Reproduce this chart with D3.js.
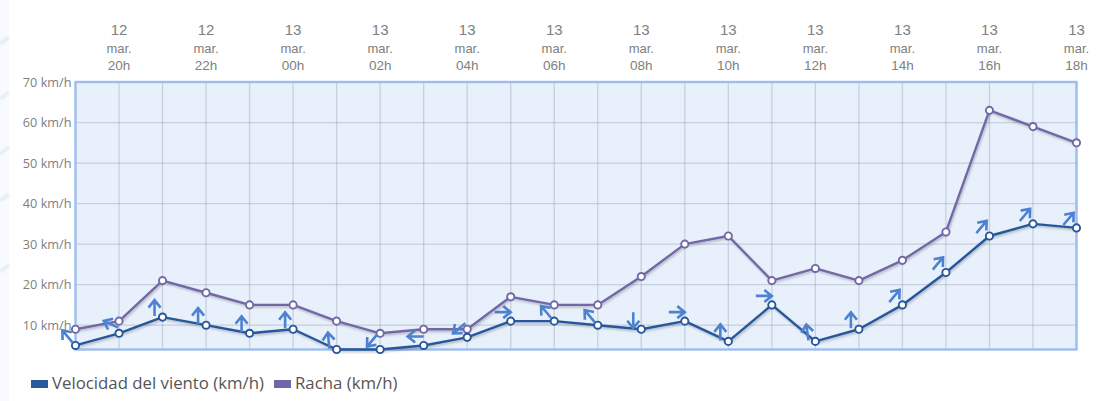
<!DOCTYPE html>
<html>
<head>
<meta charset="utf-8">
<script src="https://cdn.jsdelivr.net/npm/d3@7"></script>
<style>
  html, body { margin: 0; padding: 0; background: #fff; }
  svg { display: block; font-family: "Open Sans", sans-serif; }
  .domain { display: none; }
  .tick line { display: none; }
</style>
</head>
<body>
<div id="chart"></div>
<script>
var hours = [19, 20, 21, 22, 23, 0, 1, 2, 3, 4, 5, 6, 7, 8, 9, 10, 11, 12, 13, 14, 15, 16, 17, 18];
var days = [12, 12, 12, 12, 12, 13, 13, 13, 13, 13, 13, 13, 13, 13, 13, 13, 13, 13, 13, 13, 13, 13, 13, 13];
var wind = [5, 8, 12, 10, 8, 9, 4, 4, 5, 7, 11, 11, 10, 9, 11, 6, 15, 6, 9, 15, 23, 32, 35, 34];
var gust = [9, 11, 21, 18, 15, 15, 11, 8, 9, 9, 17, 15, 15, 22, 30, 32, 21, 24, 21, 26, 33, 63, 59, 55];
// direction the arrow points to, degrees clockwise from north
var windDir = [-40, -65, 0, 0, 0, 0, -5, -140, -90, -130, 90, -40, -40, 180, 90, 0, 90, -8, 0, 40, 40, 40, 40, 40];
var yTicks = [10, 20, 30, 40, 50, 60, 70];
var legendItems = ["Velocidad del viento (km/h)", "Racha (km/h)"];

var width = 1103, height = 401;
var left = 75.5, right = 1076.5, top_ = 82, bottom = 349.5;

var svg = d3.select("#chart").append("svg")
    .attr("width", width)
    .attr("height", height);

var x = d3.scaleLinear().domain([0, hours.length - 1]).range([left, right]);
var y = d3.scaleLinear().domain([4, 70]).range([bottom, top_]);

var defs = svg.append("defs");

// drop shadow under the lines
var shadow = defs.append("filter").attr("id", "shadow")
    .attr("x", "-5%").attr("y", "-5%").attr("width", "110%").attr("height", "120%");
shadow.append("feDropShadow")
    .attr("dx", 1).attr("dy", 1.5).attr("stdDeviation", 1)
    .attr("flood-color", "#000").attr("flood-opacity", 0.25);

defs.append("filter").attr("id", "soft")
    .append("feGaussianBlur").attr("stdDeviation", 1.2);

// faint page strip at the left edge, with its pale streaks
svg.append("rect")
    .attr("x", 0).attr("y", 0)
    .attr("width", 9).attr("height", height)
    .attr("fill", "#f8fafe");
svg.append("g").selectAll("line")
    .data([40, 95, 150, 197, 268])
    .enter().append("line")
    .attr("x1", 0).attr("x2", 9)
    .attr("y1", function(d) { return d + 4; })
    .attr("y2", function(d) { return d - 3; })
    .attr("stroke", "#dfebf8")
    .attr("stroke-width", 3)
    .attr("filter", "url(#soft)");

// plot background
svg.append("rect")
    .attr("x", left).attr("y", top_)
    .attr("width", right - left).attr("height", bottom - top_)
    .attr("fill", "#e8f0fb");

// grid
svg.append("g").selectAll("line")
    .data(hours.map(function(h, i) { return i; }).slice(1))
    .enter().append("line")
    .attr("x1", function(i) { return x(i); })
    .attr("x2", function(i) { return x(i); })
    .attr("y1", top_).attr("y2", bottom)
    .attr("stroke", "#8a90a4").attr("stroke-opacity", 0.33)
    .attr("stroke-width", 1.3);

svg.append("g").selectAll("line")
    .data(yTicks.slice(0, -1))
    .enter().append("line")
    .attr("x1", left).attr("x2", right)
    .attr("y1", function(d) { return y(d); })
    .attr("y2", function(d) { return y(d); })
    .attr("stroke", "#8a90a4").attr("stroke-opacity", 0.33)
    .attr("stroke-width", 1.3);

svg.append("rect")
    .attr("x", left).attr("y", top_)
    .attr("width", right - left).attr("height", bottom - top_)
    .attr("fill", "none")
    .attr("stroke", "#9dbdec").attr("stroke-width", 2.4);

// y axis
var yAxis = d3.axisLeft(y)
    .tickValues(yTicks)
    .tickSize(0)
    .tickPadding(4)
    .tickFormat(function(d) { return d + " km/h"; });
svg.append("g")
    .attr("transform", "translate(" + left + ",0)")
    .call(yAxis)
    .selectAll("text")
    .attr("fill", "#808080")
    .attr("font-size", 12.7)
    .attr("font-family", "'Open Sans', sans-serif");

// x axis, three lines per label
var labelIdx = hours.map(function(h, i) { return i; }).filter(function(i) { return i % 2 == 1; });
var xAxis = d3.axisTop(x).tickValues(labelIdx).tickSize(0).tickFormat("");
var xTicks = svg.append("g")
    .attr("transform", "translate(-0.5," + top_ + ")")
    .call(xAxis)
    .selectAll(".tick");
xTicks.select("text").remove();
xTicks.each(function(i) {
    var t = d3.select(this);
    var lines = [
        { s: days[i], y: -47, size: 15 },
        { s: "mar.", y: -29, size: 13 },
        { s: (hours[i] < 10 ? "0" : "") + hours[i] + "h", y: -12, size: 13.5 }
    ];
    lines.forEach(function(l) {
        t.append("text")
            .attr("y", l.y)
            .attr("text-anchor", "middle")
            .attr("fill", "#808080")
            .attr("font-size", l.size)
            .text(l.s);
    });
});

// lines and markers
function drawSeries(values, color) {
    var line = d3.line()
        .x(function(d, i) { return x(i); })
        .y(function(d) { return y(d); });
    var g = svg.append("g");
    g.append("path")
        .datum(values)
        .attr("d", line)
        .attr("fill", "none")
        .attr("stroke", color)
        .attr("stroke-width", 2.4)
        .attr("stroke-linejoin", "round")
        .attr("filter", "url(#shadow)");
    g.selectAll("circle")
        .data(values)
        .enter().append("circle")
        .attr("cx", function(d, i) { return x(i); })
        .attr("cy", function(d) { return y(d); })
        .attr("r", 3.6)
        .attr("fill", "#fff")
        .attr("stroke", color)
        .attr("stroke-width", 1.9);
}
drawSeries(gust, "#7268a8");
drawSeries(wind, "#27579b");

// wind direction arrows
var arrowPath = d3.path();
arrowPath.moveTo(0, 8);
arrowPath.lineTo(0, -7);
arrowPath.moveTo(-6, -0.5);
arrowPath.lineTo(0, -8);
arrowPath.lineTo(6, -0.5);

svg.append("g").selectAll("path")
    .data(windDir)
    .enter().append("path")
    .attr("d", arrowPath.toString())
    .attr("transform", function(d, i) {
        return "translate(" + (x(i) - 8) + "," + (y(wind[i]) - 9) + ") rotate(" + d + ")";
    })
    .attr("fill", "none")
    .attr("stroke", "#4d82d0")
    .attr("stroke-width", 2.6);

// legend
var legendColors = ["#2a59a0", "#6f68a8"];
var legendX = [31, 274];
legendItems.forEach(function(name, i) {
    svg.append("rect")
        .attr("x", legendX[i]).attr("y", 380)
        .attr("width", 17).attr("height", 8)
        .attr("fill", legendColors[i]);
    svg.append("text")
        .attr("x", legendX[i] + 21).attr("y", 389)
        .attr("font-size", 16.8)
        .attr("fill", "#555")
        .text(name);
});
</script>
</body>
</html>
